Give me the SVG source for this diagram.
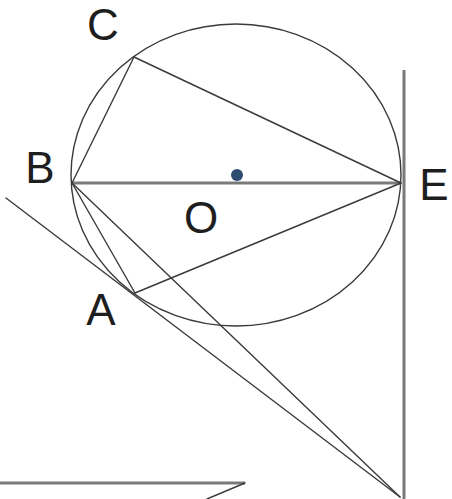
<svg xmlns="http://www.w3.org/2000/svg" width="452" height="499" viewBox="0 0 452 499">
<style>
.thin{stroke:#3a3a3a;stroke-width:1.4;fill:none;stroke-linecap:round}
.thick{stroke:#7a7a7a;stroke-width:3;fill:none}
.lbl{font-family:"Liberation Sans",Arial,sans-serif;font-size:44px;fill:#1e1e1e;text-anchor:middle}
</style>
<rect width="452" height="499" fill="#ffffff"/>
<g id="circle">
<ellipse cx="236" cy="175" rx="165" ry="151" class="thin" stroke="#4a4a4a"/>
<circle cx="237" cy="175" r="6" fill="#2e4c70"/>
</g>
<g id="connectors">
<line x1="72" y1="183" x2="401" y2="183" class="thick"/>
<line x1="404" y1="70" x2="404" y2="499" class="thick"/>
<line x1="0" y1="483" x2="245" y2="483" class="thick"/>
<line x1="245" y1="483" x2="207" y2="499" class="thin"/>
<line x1="134" y1="57" x2="401" y2="183" class="thin"/>
<line x1="134" y1="57" x2="72" y2="183" class="thin"/>
<line x1="72" y1="183" x2="135" y2="293" class="thin"/>
<line x1="72" y1="183" x2="400" y2="497" class="thin"/>
<line x1="135" y1="293" x2="401" y2="183" class="thin"/>
<line x1="6" y1="198" x2="400" y2="497" class="thin"/>
</g>
<g id="labels">
<text id="C" class="lbl" x="103" y="40">C</text>
<text id="B" class="lbl" x="40" y="183">B</text>
<text id="E" class="lbl" x="434" y="200">E</text>
<text id="O" class="lbl" x="201" y="233">O</text>
<text id="A" class="lbl" x="101" y="325">A</text>
</g>
</svg>
